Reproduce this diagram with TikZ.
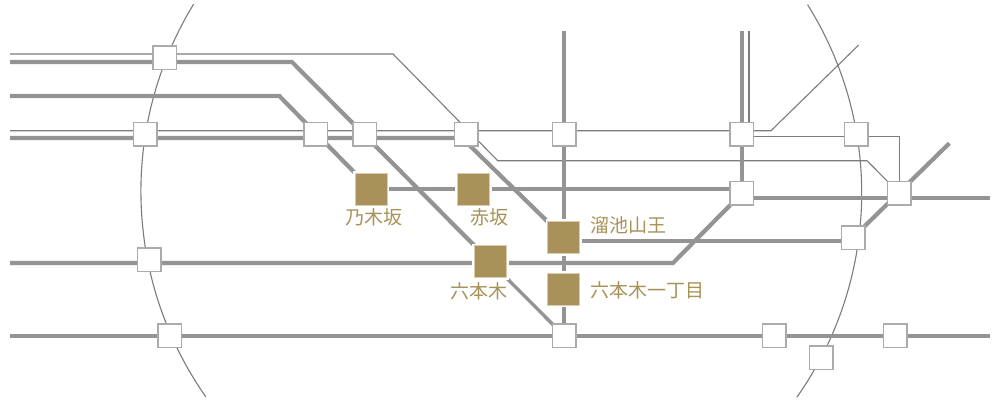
\documentclass[tikz,border=0pt]{standalone}
\usepackage{fontspec}
\newfontfamily\jp{Noto Sans CJK JP}
\usetikzlibrary{backgrounds}
\definecolor{railgrey}{HTML}{949494}
\definecolor{thingrey}{HTML}{7C7C7C}
\definecolor{boxgrey}{HTML}{ABABAB}
\definecolor{gold}{HTML}{A89259}
\definecolor{goldpale}{HTML}{D8CDB0}
\tikzset{
  thick rail/.style={draw=railgrey,line width=4.2pt,line join=miter},
  mid rail/.style={draw=railgrey,line width=3.4pt,line join=miter},
  thin rail/.style={draw=thingrey,line width=1.1pt,line join=miter},
  ring/.style={draw=thingrey,line width=1.1pt},
  hub/.style={draw=boxgrey,fill=white,line width=1.5pt,minimum size=23.5pt,inner sep=0pt,outer sep=0pt},
  goldstop/.style={draw=goldpale,fill=gold,line width=.8pt,minimum size=32pt,inner sep=0pt,outer sep=0pt,
    preaction={draw=white,line width=4.4pt}},
  stoplabel/.style={font=\jp\fontsize{19pt}{21pt}\selectfont,text=gold,inner sep=0pt}
}
\begin{document}
\begin{tikzpicture}[x=1pt,y=-1pt]
\useasboundingbox (0,0) rectangle (1000,400);
% stations
\node[hub] (A) at (164.5,57.5) {};
\node[hub] (B) at (145,134) {};
\node[hub] (C) at (315.5,134) {};
\node[hub] (D) at (364.5,134) {};
\node[hub] (E) at (466.3,134) {};
\node[hub] (F) at (564,134) {};
\node[hub] (G) at (741.8,134) {};
\node[hub] (H) at (856.3,134) {};
\node[hub] (I) at (899.3,193.3) {};
\node[hub] (J) at (741.8,193.3) {};
\node[hub] (K) at (853,237.6) {};
\node[hub] (L) at (774,335.5) {};
\node[hub] (M) at (895,335.5) {};
\node[hub] (N) at (821,357.8) {};
\node[hub] (O) at (564,335.7) {};
\node[hub] (P) at (149.3,259.8) {};
\node[hub] (Q) at (169.8,335.7) {};
\node[goldstop] (nogi) at (371,189.3) {};
\node[goldstop] (aka) at (473.5,189.3) {};
\node[goldstop] (tame) at (563.8,237.5) {};
\node[goldstop] (roppo) at (490.5,261.8) {};
\node[goldstop] (itchome) at (563.8,289) {};
\node[stoplabel] (lnogi) at (373.5,217.5) {乃木坂};
\node[stoplabel] (laka) at (489,217.5) {赤坂};
\node[stoplabel] (ltame) at (628.5,225) {溜池山王};
\node[stoplabel] (lroppo) at (479,291.5) {六本木};
\node[stoplabel,anchor=west] (litchome) at (590,290) {六本木一丁目};
% way points
\coordinate (a1) at (10,54);
\coordinate (a2) at (393,54);
\coordinate (a3) at (497.7,160.7);
\coordinate (a4) at (867,160.7);
\coordinate (b1) at (10,62);
\coordinate (b2) at (292,62);
\coordinate (c1) at (10,96);
\coordinate (c2) at (279.3,96);
\coordinate (d1) at (10,130.7);
\coordinate (d2) at (771,130.7);
\coordinate (d3) at (858.7,45);
\coordinate (e1) at (10,138);
\coordinate (e2) at (462,138);
\coordinate (f1) at (741.8,136.7);
\coordinate (f2) at (899.3,136.7);
\coordinate (g1) at (564,30.5);
\coordinate (h1) at (741.8,30.5);
\coordinate (h2) at (749,30.5);
\coordinate (h3) at (749,134);
\coordinate (i1) at (741.8,197.7);
\coordinate (i2) at (990,197.7);
\coordinate (i3) at (741.8,189.3);
\coordinate (j1) at (563.8,240.7);
\coordinate (j2) at (853,240.7);
\coordinate (k1) at (10,263);
\coordinate (k2) at (673,263);
\coordinate (m1) at (949.3,143.3);
\coordinate (n1) at (10,336);
\coordinate (n2) at (990,336);
\begin{scope}[on background layer]
  \fill[white] (0,0) rectangle (1000,400);
  \draw[ring] plot[domain=144.95:211.5,samples=80,smooth] ({499.1+358.2*cos(\x)},{191.2+358.2*sin(\x)});
  \draw[ring] plot[domain=-32.1:35.2,samples=80,smooth] ({507.4+354.3*cos(\x)},{192.9+354.3*sin(\x)});
  \draw[thin rail] (a1) -- (a2) -- (a3) -- (a4) -- (I.center);
  \draw[thin rail] (d1) -- (d2) -- (d3);
  \draw[thin rail] (f1) -- (f2) -- (I.center);
  \draw[thin rail] (h2) -- (h3);
  \draw[thick rail] (b1) -- (b2) -- (roppo.center);
  \draw[mid rail] (roppo.center) -- (O.center);
  \draw[thick rail] (c1) -- (c2) -- (nogi.center);
  \draw[thick rail] (e1) -- (e2) -- (tame.center);
  \draw[thick rail] (g1) -- (O.center);
  \draw[thick rail] (h1) -- (J.center);
  \draw[thick rail] (nogi.center) -- (i3);
  \draw[thick rail] (i1) -- (i2);
  \draw[thick rail] (j1) -- (j2);
  \draw[thick rail] (k1) -- (k2) -- (J.center);
  \draw[thick rail] (K.center) -- (m1);
  \draw[thick rail] (n1) -- (n2);
\end{scope}
\end{tikzpicture}
\end{document}
